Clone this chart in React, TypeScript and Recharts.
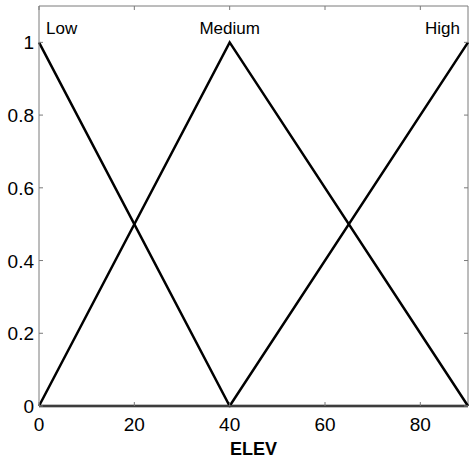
import { LineChart, Line, XAxis, YAxis, ReferenceLine, ReferenceDot } from 'recharts'

// membership functions of ELEV, sampled at their break points
const elev = [0, 40, 90]
const low = [1, 0, 0]
const medium = [0, 1, 0]
const high = [0, 0, 1]

const xTicks = [0, 20, 40, 60, 80]
const yTicks = [0, 0.2, 0.4, 0.6, 0.8, 1]

const mfLabels = [
  { name: 'Low', x: 0, anchor: 'start', dx: 7 },
  { name: 'Medium', x: 40, anchor: 'middle', dx: 0 },
  { name: 'High', x: 90, anchor: 'end', dx: -8 },
]

const data = elev.map((x, i) => ({ x, low: low[i], medium: medium[i], high: high[i] }))

const W = 470
const H = 463
const MARGIN = { top: 6, right: 2, left: 0, bottom: 0 }
const Y_AXIS_W = 39
const X_AXIS_H = 57
const PLOT_TOP = MARGIN.top
const PLOT_RIGHT = W - MARGIN.right
const TICK_LEN = 4
const AXIS_GRAY = '#7a7a7a'
const FONT = 'Liberation Sans, Arial, sans-serif'

function XTick({ x, y, payload }: { x: number; y: number; payload: { value: number } }) {
  return (
    <g>
      <line x1={x} x2={x} y1={y} y2={y - TICK_LEN} stroke={AXIS_GRAY} />
      <line x1={x} x2={x} y1={PLOT_TOP} y2={PLOT_TOP + TICK_LEN} stroke={AXIS_GRAY} />
      <text x={x} y={y + 25} textAnchor="middle" fontSize={19} fontFamily={FONT} fill="#000">
        {payload.value}
      </text>
    </g>
  )
}

function YTick({ x, y, payload }: { x: number; y: number; payload: { value: number } }) {
  return (
    <g>
      <line x1={x} x2={x + TICK_LEN} y1={y} y2={y} stroke={AXIS_GRAY} />
      <line x1={PLOT_RIGHT - TICK_LEN} x2={PLOT_RIGHT} y1={y} y2={y} stroke={AXIS_GRAY} />
      <text x={x - 5} y={y + 7} textAnchor="end" fontSize={19} fontFamily={FONT} fill="#000">
        {payload.value}
      </text>
    </g>
  )
}

export default function App() {
  return (
    <div style={{ position: 'absolute', left: 0, top: 0, background: '#fff' }}>
      <LineChart width={W} height={H} data={data} margin={MARGIN}>
        <XAxis
          dataKey="x"
          type="number"
          domain={[0, 90]}
          ticks={xTicks}
          interval={0}
          height={X_AXIS_H}
          tickSize={0}
          tickMargin={0}
          tickLine={false}
          axisLine={{ stroke: AXIS_GRAY }}
          tick={XTick}
          label={{
            value: 'ELEV',
            position: 'insideBottom',
            offset: 8,
            style: { fontSize: 18, fontWeight: 'bold', fontFamily: FONT, fill: '#000' },
          }}
        />
        <YAxis
          type="number"
          domain={[0, 1.1]}
          ticks={yTicks}
          interval={0}
          width={Y_AXIS_W}
          tickSize={0}
          tickMargin={0}
          tickLine={false}
          axisLine={{ stroke: AXIS_GRAY }}
          tick={YTick}
        />
        <ReferenceLine y={1.1} stroke={AXIS_GRAY} />
        <ReferenceLine x={90} stroke={AXIS_GRAY} />
        <Line dataKey="low" type="linear" stroke="#000" strokeWidth={2.5} dot={false} isAnimationActive={false} />
        <Line dataKey="medium" type="linear" stroke="#000" strokeWidth={2.5} dot={false} isAnimationActive={false} />
        <Line dataKey="high" type="linear" stroke="#000" strokeWidth={2.5} dot={false} isAnimationActive={false} />
        {mfLabels.map((m) => (
          <ReferenceDot
            key={m.name}
            x={m.x}
            y={1}
            r={1}
            fill="none"
            stroke="none"
            label={(props: { viewBox?: { x: number; y: number; width: number; height: number } }) => {
              const vb = props.viewBox
              if (!vb) return null
              const cx = vb.x + vb.width / 2
              const cy = vb.y + vb.height / 2
              return (
                <text
                  x={cx + m.dx}
                  y={cy - 8}
                  textAnchor={m.anchor as 'start' | 'middle' | 'end'}
                  fontSize={17}
                  fontFamily={FONT}
                  fill="#000"
                >
                  {m.name}
                </text>
              )
            }}
          />
        ))}
      </LineChart>
    </div>
  )
}
